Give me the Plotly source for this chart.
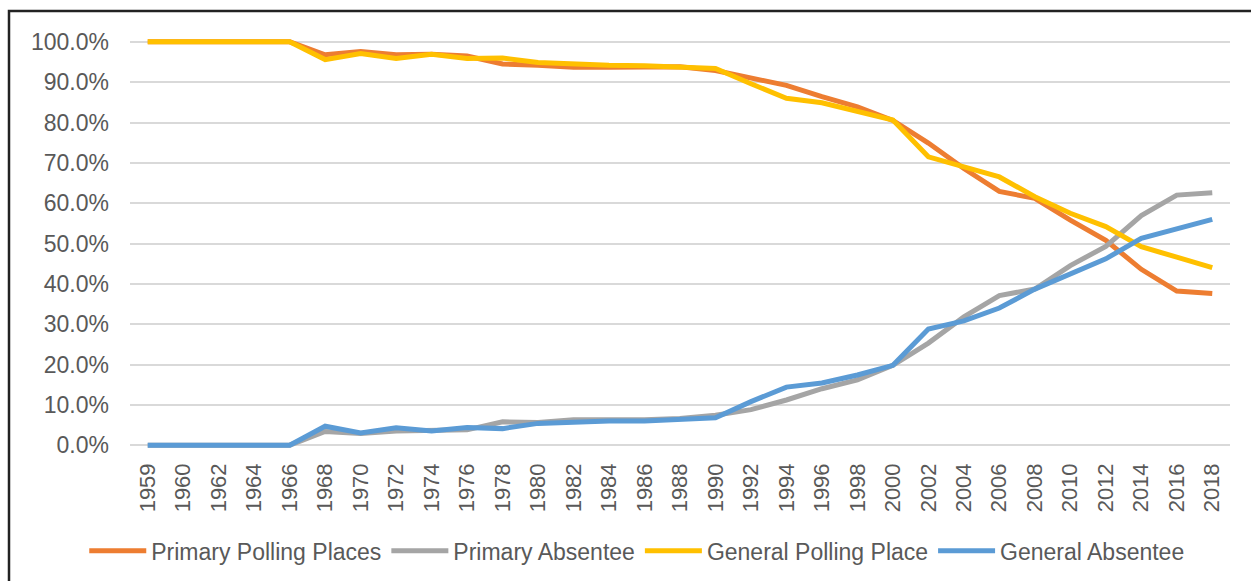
import plotly.graph_objects as go

years = ["1959", "1960", "1962", "1964", "1966", "1968", "1970", "1972", "1974", "1976",
         "1978", "1980", "1982", "1984", "1986", "1988", "1990", "1992", "1994", "1996",
         "1998", "2000", "2002", "2004", "2006", "2008", "2010", "2012", "2014", "2016", "2018"]

primary_polling = [100, 100, 100, 100, 100, 96.8, 97.6, 96.8, 96.9, 96.5,
                   94.5, 94.2, 93.7, 93.7, 93.8, 93.8, 92.9, 91.0, 89.2, 86.4,
                   83.9, 80.5, 74.9, 68.6, 62.9, 61.2, 55.8, 50.8, 43.6, 38.2, 37.6]

primary_absentee = [0, 0, 0, 0, 0, 3.4, 2.9, 3.5, 3.6, 3.8,
                    5.8, 5.6, 6.3, 6.2, 6.3, 6.6, 7.4, 8.8, 11.2, 14.0,
                    16.2, 19.8, 25.3, 31.8, 37.1, 38.7, 44.5, 49.3, 56.9, 62.0, 62.6]

general_polling = [100, 100, 100, 100, 100, 95.6, 97.1, 95.9, 96.9, 95.9,
                   96.0, 94.9, 94.4, 94.2, 94.1, 93.6, 93.4, 89.6, 86.0, 84.9,
                   82.9, 80.6, 71.5, 69.1, 66.5, 61.6, 57.5, 54.2, 49.2, 46.6, 44.0]

general_absentee = [0, 0, 0, 0, 0, 4.7, 3.0, 4.3, 3.5, 4.4,
                    4.1, 5.4, 5.8, 6.0, 6.0, 6.5, 6.8, 10.8, 14.4, 15.4,
                    17.4, 19.8, 28.8, 30.8, 34.0, 38.7, 42.6, 46.2, 51.3, 53.7, 56.0]

y_tick_values = [0, 10, 20, 30, 40, 50, 60, 70, 80, 90, 100]
y_tick_labels = ["0.0%", "10.0%", "20.0%", "30.0%", "40.0%", "50.0%",
                 "60.0%", "70.0%", "80.0%", "90.0%", "100.0%"]

series = [
    ("Primary Polling Places", primary_polling, "#ED7D31"),
    ("Primary Absentee", primary_absentee, "#A5A5A5"),
    ("General Polling Place", general_polling, "#FFC000"),
    ("General Absentee", general_absentee, "#5B9BD5"),
]

font_family = "Liberation Sans, Arial, Helvetica, sans-serif"
text_color = "#595959"

fig = go.Figure()
for name, vals, color in series:
    fig.add_trace(go.Scatter(
        x=years, y=vals, name=name, mode="lines",
        line=dict(color=color, width=5),
        hoverinfo="x+y+name",
    ))

fig.update_layout(
    width=1251, height=581,
    margin=dict(l=130, r=21, t=37, b=131),
    paper_bgcolor="white", plot_bgcolor="white",
    font=dict(family=font_family, size=22, color=text_color),
    showlegend=True,
    legend=dict(
        orientation="h", xref="container", yref="container",
        x=0.509, y=0.052, xanchor="center", yanchor="middle",
        font=dict(size=23, color=text_color),
        itemwidth=57, tracegroupgap=0, itemclick=False,
    ),
    xaxis=dict(
        type="category", range=[-0.5, 30.5],
        tickangle=-90, showgrid=False, zeroline=False, showline=False,
        ticks="", tickfont=dict(size=22, color=text_color),
        ticklabelstandoff=8, fixedrange=True, automargin=False,
    ),
    yaxis=dict(
        range=[-1.2, 101.2], tickvals=y_tick_values, ticktext=y_tick_labels,
        showgrid=True, gridcolor="#D9D9D9", gridwidth=1.5,
        zeroline=False, showline=False, ticks="",
        tickfont=dict(size=23, color=text_color),
        ticklabelstandoff=20, fixedrange=True, automargin=False,
    ),
    shapes=[
        dict(type="path", xref="paper", yref="paper",
             path="M -0.11 -0.4 L -0.11 1.063 L 1.03 1.063",
             line=dict(color="#222222", width=2.5), layer="above"),
    ],
)

fig.write_html("out.html", config={"displayModeBar": False},
               post_script="document.body.style.margin='0';document.body.style.overflow='hidden';")
